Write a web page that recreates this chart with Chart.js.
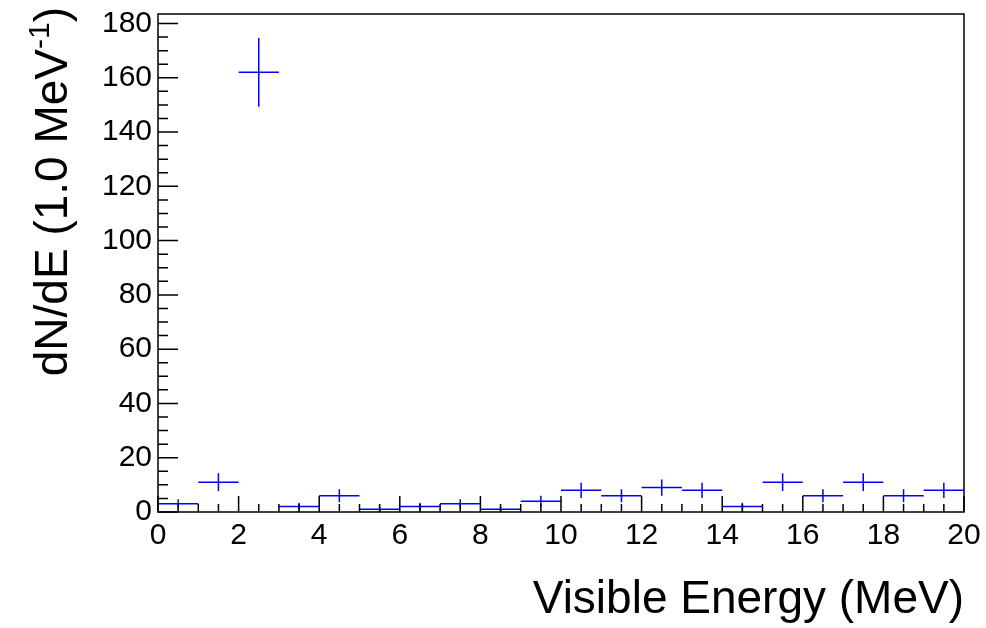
<!DOCTYPE html>
<html>
<head>
<meta charset="utf-8">
<script src="https://cdn.jsdelivr.net/npm/chart.js@4/dist/chart.umd.min.js"></script>
<style>
  body { margin: 0; background: #fff; }
  #wrap { width: 986px; height: 628px; }
</style>
</head>
<body>
<div id="wrap"><canvas id="chart" width="986" height="628"></canvas></div>
<script>
// Histogramme : bins de 1 MeV, comptes et erreurs
const binLow = [0, 1, 2, 3, 4, 5, 6, 7, 8, 9, 10, 11, 12, 13, 14, 15, 16, 17, 18, 19];
const binHigh = [1, 2, 3, 4, 5, 6, 7, 8, 9, 10, 11, 12, 13, 14, 15, 16, 17, 18, 19, 20];
const counts = [3, 11, 162, 2, 6, 1, 2, 3, 1, 4, 8, 6, 9, 8, 2, 11, 6, 11, 6, 8];
const errors = [1.7, 3.3, 12.7, 1.4, 2.4, 1, 1.4, 1.7, 1, 2, 2.8, 2.4, 3, 2.8, 1.4, 3.3, 2.4, 3.3, 2.4, 2.8];

// Graduations
const xTicks = [0, 2, 4, 6, 8, 10, 12, 14, 16, 18, 20];
const yTicks = [0, 20, 40, 60, 80, 100, 120, 140, 160, 180];
const xMinorStep = 0.5;
const yMinorStep = 5;

const xTitle = 'Visible Energy (MeV)';
const yTitleMain = 'dN/dE (1.0 MeV';
const yTitleSup = '-1';
const yTitleEnd = ')';

const FONT = '"Liberation Sans", Arial, Helvetica, sans-serif';

// Segments horizontaux (largeur du bin) et verticaux (erreur), séparés par des trous
const hPoints = [];
const vPoints = [];
for (let i = 0; i < counts.length; i++) {
    const mid = (binLow[i] + binHigh[i]) / 2;
    hPoints.push({ x: binLow[i], y: counts[i] });
    hPoints.push({ x: binHigh[i], y: counts[i] });
    hPoints.push({ x: binHigh[i], y: null });
    vPoints.push({ x: mid, y: counts[i] - errors[i] });
    vPoints.push({ x: mid, y: counts[i] + errors[i] });
    vPoints.push({ x: mid, y: null });
}

// Cadre, graduations intérieures et titre de l'axe Y
const framePlugin = {
    id: 'frame',
    afterDraw(chart) {
        const ctx = chart.ctx;
        const a = chart.chartArea;
        const xs = chart.scales.x;
        const ys = chart.scales.y;
        ctx.save();
        ctx.strokeStyle = '#000';
        ctx.lineWidth = 1.5;
        ctx.strokeRect(a.left, a.top, a.right - a.left, a.bottom - a.top);

        ctx.beginPath();
        for (let v = xs.min; v <= xs.max + 1e-9; v += xMinorStep) {
            const px = xs.getPixelForValue(v);
            const major = xTicks.includes(Math.round(v * 100) / 100);
            ctx.moveTo(px, a.bottom);
            ctx.lineTo(px, a.bottom - (major ? 16 : 8));
        }
        for (let v = 0; v <= ys.max + 1e-9; v += yMinorStep) {
            const py = ys.getPixelForValue(v);
            const major = yTicks.includes(v);
            ctx.moveTo(a.left, py);
            ctx.lineTo(a.left + (major ? 20 : 10), py);
        }
        ctx.stroke();

        // titre Y avec exposant
        const big = '46px ' + FONT;
        const small = '30px ' + FONT;
        ctx.fillStyle = '#000';
        ctx.textBaseline = 'alphabetic';
        ctx.textAlign = 'left';
        ctx.font = big;
        const w1 = ctx.measureText(yTitleMain).width;
        const w3 = ctx.measureText(yTitleEnd).width;
        ctx.font = small;
        const w2 = ctx.measureText(yTitleSup).width;
        const total = w1 + w2 + w3;
        ctx.translate(67, 0);
        ctx.rotate(-Math.PI / 2);
        const x0 = -(7 + total);
        ctx.font = big;
        ctx.fillText(yTitleMain, x0, 0);
        ctx.font = small;
        ctx.fillText(yTitleSup, x0 + w1, -18);
        ctx.font = big;
        ctx.fillText(yTitleEnd, x0 + w1 + w2, 0);
        ctx.restore();
    }
};

new Chart(document.getElementById('chart'), {
    type: 'line',
    data: {
        datasets: [{
            data: hPoints,
            borderColor: '#0000ff',
            borderWidth: 1.5,
            pointRadius: 0,
            spanGaps: false,
            tension: 0
        }, {
            data: vPoints,
            borderColor: '#0000ff',
            borderWidth: 1.5,
            pointRadius: 0,
            spanGaps: false,
            tension: 0
        }]
    },
    options: {
        responsive: false,
        animation: false,
        layout: { padding: { left: 0, top: 14, right: 22, bottom: 0 } },
        plugins: {
            legend: { display: false },
            tooltip: { enabled: false }
        },
        scales: {
            x: {
                type: 'linear',
                min: 0,
                max: 20,
                grid: { display: false, drawTicks: false },
                border: { display: false },
                afterBuildTicks: function(s) { s.ticks = xTicks.map(v => ({ value: v })); },
                afterFit: function(s) {
                    s.height = 116;
                    s.paddingLeft = 0;
                    s.paddingRight = 0;
                },
                ticks: {
                    autoSkip: false,
                    maxRotation: 0,
                    padding: 6,
                    color: '#000',
                    font: { family: FONT, size: 30 }
                },
                title: {
                    display: true,
                    text: xTitle,
                    align: 'end',
                    color: '#000',
                    padding: { top: 0, bottom: 0 },
                    font: { family: FONT, size: 46, lineHeight: 1.2 }
                }
            },
            y: {
                type: 'linear',
                min: 0,
                max: 183.5,
                grid: { display: false, drawTicks: false },
                border: { display: false },
                afterBuildTicks: function(s) { s.ticks = yTicks.map(v => ({ value: v })); },
                afterFit: function(s) {
                    s.width = 158;
                    s.paddingTop = 0;
                    s.paddingBottom = 0;
                },
                ticks: {
                    padding: 6,
                    color: '#000',
                    font: { family: FONT, size: 30 }
                }
            }
        }
    },
    plugins: [framePlugin]
});
</script>
</body>
</html>
